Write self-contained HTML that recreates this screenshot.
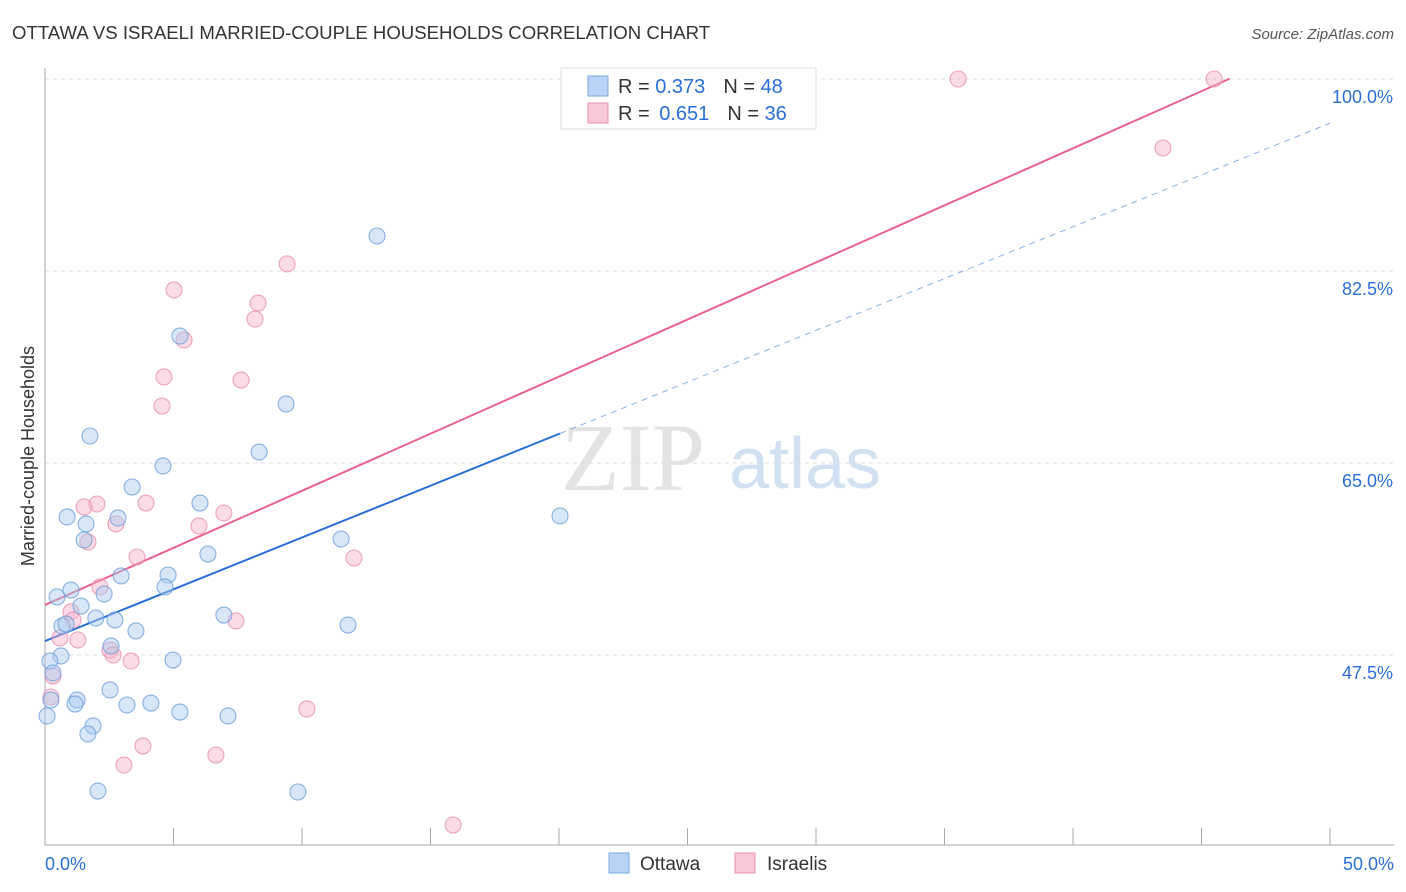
<!DOCTYPE html>
<html><head><meta charset="utf-8">
<style>
body{margin:0;background:#fff;font-family:"Liberation Sans",sans-serif;}
svg{display:block}
</style></head>
<body>
<svg id="chart" width="1406" height="892">
<text x="12" y="39" font-size="18.6" fill="#333">OTTAWA VS ISRAELI MARRIED-COUPLE HOUSEHOLDS CORRELATION CHART</text>
<text x="1394" y="39" font-size="15" fill="#555" font-style="italic" text-anchor="end">Source: ZipAtlas.com</text>
<g>
<text x="633" y="490" font-size="96" fill="#ddd" font-family="Liberation Serif" text-anchor="middle" opacity="0.8">ZIP</text>
<text x="805" y="488" font-size="72" fill="#c8daf0" text-anchor="middle" opacity="0.8">atlas</text>
</g>
<g id="grid"></g>
<g id="axes"></g>
<g id="lines"></g>
<g id="points"></g>
<text transform="translate(34,456) rotate(-90)" font-size="18" fill="#333" text-anchor="middle">Married-couple Households</text>
<g>
<rect x="561" y="68" width="255" height="61" fill="#fff" stroke="#ddd"/>
<rect x="588" y="76" width="20" height="20" fill="#b8d3f5" stroke="#7aaae0"/>
<text x="618" y="93" font-size="20" fill="#333">R = <tspan fill="#2a6fd6">0.373</tspan><tspan dx="18">N = </tspan><tspan fill="#2a6fd6">48</tspan></text>
<rect x="588" y="103" width="20" height="20" fill="#f8c8d8" stroke="#e890b0"/>
<text x="618" y="120" font-size="20" fill="#333">R = <tspan dx="4" fill="#2a6fd6">0.651</tspan><tspan dx="18">N = </tspan><tspan fill="#2a6fd6">36</tspan></text>
</g>
<g>
<rect x="609" y="853" width="20" height="20" fill="#b8d3f5" stroke="#7aaae0"/>
<text x="640" y="870" font-size="19" fill="#333">Ottawa</text>
<rect x="735" y="853" width="20" height="20" fill="#f8c8d8" stroke="#e890b0"/>
<text x="767" y="870" font-size="19" fill="#333">Israelis</text>
</g>
</svg>
<script>
const blueX=[12.92,5.25,1.75,9.38,4.59,8.33,3.39,6.03,0.86,2.84,1.60,1.52,6.34,11.52,20.04,2.96,4.79,0.47,1.01,4.67,2.30,1.40,1.98,0.66,0.82,2.72,6.96,3.54,11.79,2.57,0.62,4.98,0.19,0.31,2.53,1.25,1.17,3.19,4.12,0.23,5.25,7.12,0.08,1.87,1.67,2.06,9.84];
const blueY=[85.69,76.57,67.46,70.38,64.73,66.0,62.81,61.35,60.08,59.99,59.44,57.98,56.70,58.07,60.17,54.70,54.79,52.79,53.42,53.70,53.06,51.96,50.87,50.14,50.32,50.69,51.14,49.69,50.23,48.32,47.41,47.04,46.95,45.86,44.31,43.40,43.03,42.94,43.12,43.40,42.30,41.94,41.94,41.03,40.30,35.10,35.01];
const pinkX=[35.53,45.49,43.50,9.42,5.02,8.29,8.17,5.41,4.63,7.63,4.55,2.02,3.93,1.52,6.96,5.99,2.76,1.67,3.58,12.02,2.14,1.01,1.09,7.43,1.28,2.53,2.65,0.58,3.35,0.31,0.23,10.19,3.81,6.65,3.07,15.88];
const pinkY=[100,100,93.71,83.14,80.77,79.58,78.12,76.21,72.84,72.56,70.19,61.26,61.35,60.99,60.44,59.26,59.44,57.80,56.43,56.34,53.70,51.42,50.69,50.60,48.87,47.95,47.50,49.05,46.95,45.58,43.67,42.58,39.20,38.38,37.47,32.00];
const blueTrend=[48.77,0.944];
const pinkTrend=[52.06,1.0406];
const yTicks=[47.5,65.0,82.5,100.0];
const xTickLabels=["0.0%","50.0%"];

const NS="http://www.w3.org/2000/svg";
const sx=v=>45+v*25.7;
const sy=v=>79+(100-v)*10.971;
function mk(t,a,p){const e=document.createElementNS(NS,t);for(const k in a)e.setAttribute(k,a[k]);p.appendChild(e);return e;}
const grid=document.getElementById('grid'),axes=document.getElementById('axes'),lines=document.getElementById('lines'),pts=document.getElementById('points');
yTicks.forEach(v=>{
 const l=mk('line',{x1:45,x2:1394,y1:sy(v),y2:sy(v),stroke:'#ddd','stroke-dasharray':'4,4'},grid);
 
 
 const t=mk('text',{x:1393,y:sy(v)+24,'font-size':18,fill:'#2a6fd6','text-anchor':'end'},grid);
 t.textContent=v.toFixed(1)+'%';
 
 
});
let ax=mk('line',{x1:45,x2:1394,y1:845,y2:845,stroke:'#aaa'},axes);


let ay=mk('line',{x1:45,x2:45,y1:68,y2:845,stroke:'#aaa'},axes);


for(let i=0;i<=10;i++){
 const tk=mk('line',{x1:sx(i*5),x2:sx(i*5),y1:828,y2:845,stroke:'#aaa'},axes);
 
 
}
[[0,'start',45],[50,'end',1394]].forEach((d,i)=>{
 const t=mk('text',{x:d[2],y:870,'font-size':18,fill:'#2a6fd6','text-anchor':d[1]},axes);
 t.textContent=xTickLabels[i];
 
 
});
function dots(X,Y,fill,stroke,name){
 X.forEach((x,i)=>{
  const c=mk('circle',{cx:sx(x),cy:sy(Y[i]),r:8,fill:fill,'fill-opacity':0.45,stroke:stroke,'stroke-width':1.1,'stroke-opacity':0.8},pts);
  
  
 });
}
dots(pinkX,pinkY,'#f5b0c8','#e890b0','israelis-point');
dots(blueX,blueY,'#a9c9f0','#6f9fdc','ottawa-point');
const bMax=Math.max(...blueX),pMax=Math.max(...pinkX);
const f=(t,x)=>t[0]+t[1]*x;
let bl=mk('line',{x1:sx(0),y1:sy(f(blueTrend,0)),x2:sx(bMax),y2:sy(f(blueTrend,bMax)),stroke:'#2a6fd6','stroke-width':2},lines);


let bd=mk('line',{x1:sx(bMax),y1:sy(f(blueTrend,bMax)),x2:sx(50),y2:sy(f(blueTrend,50)),stroke:'#8ab0e0','stroke-width':1,'stroke-dasharray':'6,5'},lines);


let pl=mk('line',{x1:sx(0),y1:sy(f(pinkTrend,0)),x2:sx(pMax+0.6),y2:sy(f(pinkTrend,pMax+0.6)),stroke:'#e8638f','stroke-width':2},lines);


</script>
</body></html>
